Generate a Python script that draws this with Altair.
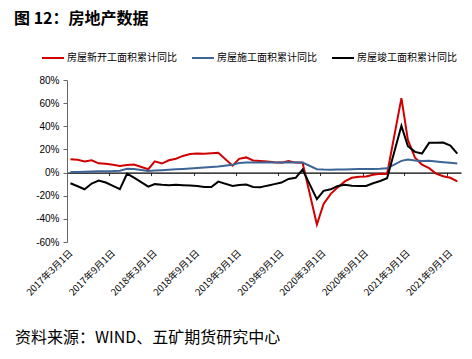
import altair as alt
import pandas as pd

# ---------------- data ----------------
months = [
    "2017-03", "2017-04", "2017-05", "2017-06", "2017-07", "2017-08", "2017-09", "2017-10", "2017-11", "2017-12",
    "2018-02", "2018-03", "2018-04", "2018-05", "2018-06", "2018-07", "2018-08", "2018-09", "2018-10", "2018-11", "2018-12",
    "2019-02", "2019-03", "2019-04", "2019-05", "2019-06", "2019-07", "2019-08", "2019-09", "2019-10", "2019-11", "2019-12",
    "2020-02", "2020-03", "2020-04", "2020-05", "2020-06", "2020-07", "2020-08", "2020-09", "2020-10", "2020-11", "2020-12",
    "2021-02", "2021-03", "2021-04", "2021-05", "2021-06", "2021-07", "2021-08", "2021-09", "2021-10",
]

new_starts = [
    11.6, 11.0, 9.5, 10.6, 8.0, 7.6, 6.8, 5.6, 6.6, 7.0,
    2.9, 9.7, 7.8, 10.6, 12.0, 14.4, 16.0, 16.4, 16.3, 16.8, 17.2,
    6.0, 11.9, 13.1, 10.5, 10.1, 9.5, 8.9, 8.6, 10.0, 8.6, 8.5,
    -44.9, -27.2, -18.4, -12.8, -7.6, -4.5, -3.6, -3.4, -1.9, -1.0, -1.2,
    64.3, 28.2, 12.8, 6.9, 3.8, -0.9, -3.2, -4.5, -7.7,
]

under_construction = [
    0.5, 0.6, 0.8, 1.0, 1.1, 1.2, 1.3, 1.6, 3.2, 3.0,
    1.4, 1.7, 2.0, 2.4, 2.8, 3.1, 3.5, 3.9, 4.4, 4.8, 5.2,
    6.8, 8.2, 8.8, 8.8, 8.8, 9.0, 8.8, 8.7, 9.0, 8.7, 8.7,
    2.9, 2.6, 2.5, 2.6, 2.6, 2.8, 3.0, 3.1, 3.1, 3.2, 3.7,
    10.1, 11.2, 10.5, 10.1, 10.2, 9.5, 8.9, 8.4, 7.9,
]

completed = [
    -9.2, -11.8, -14.4, -9.5, -6.9, -8.6, -11.5, -14.4, -1.0, -4.4,
    -12.2, -10.0, -10.6, -10.9, -10.6, -10.9, -11.1, -11.6, -12.4, -12.4, -7.8,
    -11.6, -10.8, -10.3, -12.4, -12.7, -11.3, -10.0, -8.6, -5.5, -4.5, 2.6,
    -22.9, -15.8, -14.5, -11.6, -10.5, -11.3, -11.6, -11.6, -9.2, -7.3, -4.9,
    40.4, 22.9, 17.9, 16.4, 25.7, 25.7, 26.0, 23.4, 16.3,
]

series_names = ["房屋新开工面积累计同比", "房屋施工面积累计同比", "房屋竣工面积累计同比"]
series_colors = ["#D10000", "#3C6494", "#000000"]

y_ticks = [-60, -40, -20, 0, 20, 40, 60, 80]
x_tick_months = ["2017-03", "2017-09", "2018-03", "2018-09", "2019-03",
                 "2019-09", "2020-03", "2020-09", "2021-03", "2021-09"]
x_domain_months = ["2017-03", "2021-11"]

title_text = "图 12：房地产数据"
source_text = "资料来源：WIND、五矿期货研究中心"

# ---------------- build table ----------------
rows = []
for name, vals in zip(series_names, [new_starts, under_construction, completed]):
    for m, v in zip(months, vals):
        rows.append({"date": m + "-16", "series": name, "value": v})
df = pd.DataFrame(rows)


def dt(ym):
    return alt.DateTime(year=int(ym[:4]), month=int(ym[5:7]), date=1, utc=True)


W, H = 394, 162
zero_off = H * 60 / 140

CJK = "Noto Sans CJK SC"

lines = alt.Chart(df).mark_line(strokeWidth=2).encode(
    x=alt.X(
        "date:T",
        title=None,
        scale=alt.Scale(type="utc", domain=[dt(m) for m in x_domain_months]),
        axis=alt.Axis(
            values=[dt(m) for m in x_tick_months],
            labelExpr="utcFormat(datum.value, '%Y年%-m月%-d日')",
            labelAngle=-45,
            labelAlign="right",
            labelBaseline="top",
            offset=-zero_off,
            labelPadding=zero_off + 2.5,
            domainColor="#000000",
            domainWidth=1.3,
            tickColor="#333333",
            tickSize=3,
            labelFont=CJK,
            labelFontSize=9.5,
            labelColor="#000000",
            labelOverlap=False,
            grid=False,
        ),
    ),
    y=alt.Y(
        "value:Q",
        title=None,
        scale=alt.Scale(domain=[-60, 80], nice=False, zero=False),
        axis=alt.Axis(
            values=y_ticks,
            labelExpr="datum.value + '%'",
            domainColor="#666666",
            tickColor="#666666",
            tickSize=4,
            labelPadding=4,
            labelFont="Liberation Sans",
            labelFontSize=10,
            labelColor="#000000",
            grid=False,
        ),
    ),
    color=alt.Color(
        "series:N",
        title=None,
        sort=series_names,
        scale=alt.Scale(domain=series_names, range=series_colors),
        legend=alt.Legend(
            orient="none",
            legendX=-26,
            legendY=-34,
            direction="horizontal",
            symbolType="stroke",
            symbolStrokeWidth=2,
            symbolSize=484,
            labelFont=CJK,
            labelFontSize=10,
            labelColor="#000000",
            columnPadding=11,
            labelOffset=2,
            labelLimit=300,
        ),
    ),
)

title = alt.Chart(pd.DataFrame({"t": [title_text]})).mark_text(
    align="left", baseline="middle", fontSize=16, fontWeight="bold", font=CJK, color="#000000"
).encode(x=alt.value(-53), y=alt.value(-61), text="t:N")

footer = alt.Chart(pd.DataFrame({"t": [source_text]})).mark_text(
    align="left", baseline="middle", fontSize=16, font=CJK, color="#000000"
).encode(x=alt.value(-52), y=alt.value(258), text="t:N")

chart = alt.layer(lines, title, footer).properties(
    width=W,
    height=H,
    autosize=alt.AutoSizeParams(type="none"),
    padding={"left": 59, "top": 72, "right": 3, "bottom": 109},
    background="white",
).configure_view(stroke=None)

chart.save("out.html", embed_options={"renderer": "svg", "actions": False})
